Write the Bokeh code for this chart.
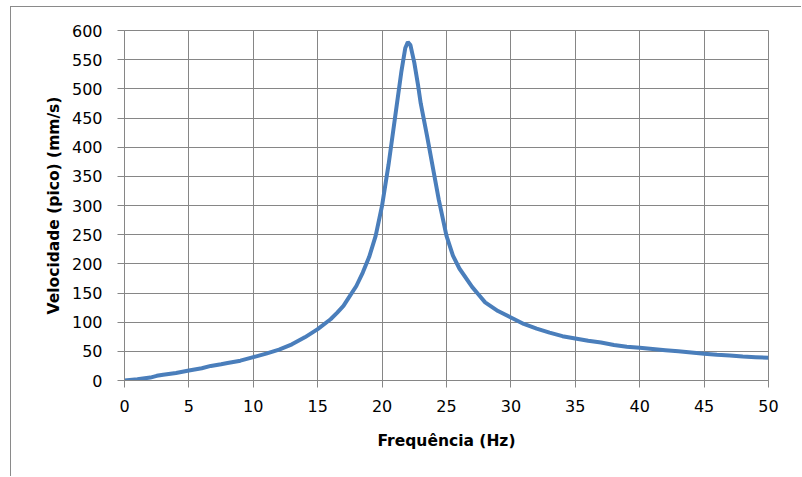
from bokeh.plotting import figure
from bokeh.models import ColumnDataSource, FixedTicker, Range1d
from bokeh.embed import file_html
from bokeh.resources import INLINE

# Data
freq_hz = [0, 1, 2, 2.5, 3, 4, 5, 6, 6.7, 7.5, 8, 9, 10, 11, 12, 13, 14, 15, 16, 16.5,
           17, 17.5, 18, 18.5, 19, 19.5, 20, 20.5, 21, 21.5, 21.8, 22, 22.2, 22.5, 22.8,
           23, 23.5, 24, 24.4, 25, 25.5, 26, 27, 27.5, 28, 29, 30, 31, 32, 33, 34, 35,
           36, 37, 38, 39, 40, 41, 42, 43, 44, 45, 46, 47, 48, 49, 50]
velocity_mm_s = [0, 2, 5, 8, 10, 13, 17, 21, 25, 28, 30, 34, 40, 46, 53, 62, 74, 88, 105, 116,
                 128, 145, 162, 185, 212, 248, 300, 370, 450, 530, 570, 580, 575, 545, 505,
                 475, 418, 358, 310, 248, 214, 192, 160, 147, 134, 119, 108, 97, 89, 82, 76, 72,
                 68, 65, 61, 58, 56, 54, 52, 50, 48, 46, 44, 43, 41, 40, 39]
x_ticks = list(range(0, 51, 5))
y_ticks = list(range(0, 601, 50))

x_title = "Frequência (Hz)"
y_title = "Velocidade (pico) (mm/s)"

src = ColumnDataSource(data=dict(x=freq_hz, y=velocity_mm_s))

GRID = "#868686"
FONT = "DejaVu Sans"

p = figure(width=790, height=469, output_backend="svg", toolbar_location=None,
           x_range=Range1d(0, 50), y_range=Range1d(0, 600),
           min_border_left=113, min_border_top=23, min_border_right=33, min_border_bottom=96,
           frame_width=644, frame_height=350)
p.styles = {"margin-left": "10px", "margin-top": "6px",
            "border-left": "1px solid #8a8a8a", "border-top": "1px solid #8a8a8a"}

p.line("x", "y", source=src, line_color="#4a7ebb", line_width=4)

p.xaxis.ticker = FixedTicker(ticks=x_ticks)
p.yaxis.ticker = FixedTicker(ticks=y_ticks)
p.xaxis.minor_tick_line_color = None
p.yaxis.minor_tick_line_color = None

for ax in (p.xaxis, p.yaxis):
    ax.axis_line_color = GRID
    ax.major_tick_line_color = GRID
    ax.major_tick_out = 7
    ax.major_tick_in = 0
    ax.major_label_text_font = FONT
    ax.major_label_text_font_size = "16px"
    ax.major_label_text_color = "#000000"
    ax.axis_label_text_font = FONT
    ax.axis_label_text_font_size = "15.5px"
    ax.axis_label_text_font_style = "bold"
    ax.axis_label_text_color = "#000000"

p.xaxis.axis_label = x_title
p.yaxis.axis_label = y_title
p.yaxis.major_label_standoff = 15
p.xaxis.major_label_standoff = 12
p.xaxis.axis_label_standoff = 17
p.yaxis.axis_label_standoff = 6

p.xgrid.ticker = FixedTicker(ticks=x_ticks)
p.ygrid.ticker = FixedTicker(ticks=y_ticks)
p.grid.grid_line_color = GRID
p.grid.grid_line_width = 1

p.outline_line_color = GRID
p.outline_line_width = 1
p.background_fill_color = "white"
p.border_fill_color = "white"

open("out.html", "w").write(file_html(p, INLINE))
